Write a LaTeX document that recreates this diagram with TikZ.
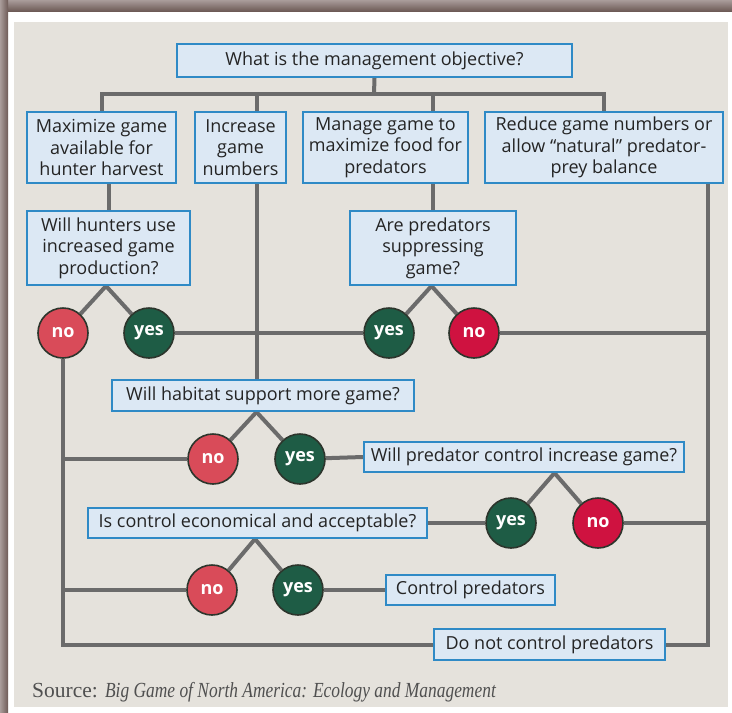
\documentclass[tikz,border=0pt]{standalone}
\usepackage{fontspec}
\usepackage{graphicx}
\setmainfont{Open Sans}
\newfontfamily\srcfont{Liberation Serif}
\usetikzlibrary{calc}
\pgfdeclarelayer{back}
\pgfdeclarelayer{bg}
\pgfsetlayers{back,bg,main}
\definecolor{panel}{HTML}{E5E2DC}
\definecolor{frametop}{HTML}{A99C9A}
\definecolor{framebot}{HTML}{6E5B57}
\definecolor{boxblue}{HTML}{2F8AC6}
\definecolor{boxfill}{HTML}{DCE8F4}
\definecolor{wiregray}{HTML}{6B6B6B}
\definecolor{nored}{HTML}{D94B59}
\definecolor{nodeep}{HTML}{CF1240}
\definecolor{yesgreen}{HTML}{1E5C45}
\definecolor{ringdark}{HTML}{2C352C}
\definecolor{inktext}{HTML}{242424}
\definecolor{srcgray}{HTML}{505050}
\def\fork(#1)(#2)(#3){\path ($(#2)!0.5!(#3)$) coordinate (#1apex);
  \draw[wire] (#1apex |- #1.south) -- (#2);
  \draw[wire] (#1apex |- #1.south) -- (#3);}

\begin{document}
\begin{tikzpicture}[x=1pt,y=-1pt,
  qbox/.style={draw=boxblue, fill=boxfill, line width=2pt, inner sep=0pt,
    align=center, text=inktext, font=\fontsize{18}{21.5}\selectfont},
  answer/.style={circle, draw=ringdark, line width=1.6pt, minimum size=50pt,
    inner sep=0pt, text=white, font=\bfseries\fontsize{18}{20}\selectfont},
  ansno/.style={answer, fill=nored},
  ansdeep/.style={answer, fill=nodeep},
  ansyes/.style={answer, fill=yesgreen},
  wire/.style={draw=wiregray, line width=4pt}]
  \useasboundingbox (0,0) rectangle (732,713);

  %%%%% FRAME %%%%%
  \begin{pgfonlayer}{back}
    \fill[white] (0,0) rectangle (732,713);
    \shade[top color=frametop, bottom color=framebot] (0,0) rectangle (732,11);
    \shade[left color=frametop, right color=framebot] (0,0) rectangle (8,713);
    \fill[panel] (14,22) rectangle (728,707);
  \end{pgfonlayer}

  %%%%% BOXES %%%%%
  \node[qbox, minimum width=395, minimum height=33] (goal) at (374.5,60.5) {What is the management objective?};

  \node[qbox, minimum width=149, minimum height=71] (harvest) at (101.5,147.5) {Maximize game\\available for\\hunter harvest};
  \node[qbox, minimum width=91, minimum height=71] (increase) at (240.5,147.5) {Increase\\game\\numbers};
  \node[qbox, minimum width=165, minimum height=71] (feed) at (385.5,147.5) {Manage game to\\maximize food for\\predators};
  \node[qbox, minimum width=238, minimum height=71] (reduce) at (604,147.5) {Reduce game numbers or\\allow ``natural'' predator-\\prey balance};

  \node[qbox, minimum width=163, minimum height=74] (hunters) at (108.5,248) {Will hunters use\\increased game\\production?};
  \node[qbox, minimum width=166, minimum height=74] (suppress) at (433,248) {Are predators\\suppressing\\game?};

  \node[qbox, minimum width=302, minimum height=31] (habitat) at (263,395.5) {Will habitat support more game?};
  \node[qbox, minimum width=320, minimum height=30] (effect) at (524,457) {Will predator control increase game?};
  \node[qbox, minimum width=339, minimum height=30] (cost) at (257.5,523) {Is control economical and acceptable?};
  \node[qbox, minimum width=169, minimum height=30] (control) at (470.5,590) {Control predators};
  \node[qbox, minimum width=231, minimum height=31] (nocontrol) at (549.5,644.5) {Do not control predators};

  %%%%% ANSWERS %%%%%
  \node[ansno] (huntno) at (63,333) {no};
  \node[ansyes] (huntyes) at (149,333) {yes};
  \node[ansyes] (predyes) at (389,333) {yes};
  \node[ansdeep] (predno) at (474,333) {no};
  \node[ansno] (habno) at (213,459) {no};
  \node[ansyes] (habyes) at (300,459) {yes};
  \node[ansyes] (effyes) at (511,523) {yes};
  \node[ansdeep] (effno) at (598,523) {no};
  \node[ansno] (costno) at (212,590) {no};
  \node[ansyes] (costyes) at (298,590) {yes};

  \node[anchor=base west, inner sep=0pt, text=srcgray, font=\srcfont\fontsize{21.5}{23}\selectfont] (source) at (32,697)
    {Source: \scalebox{0.81}[1]{\itshape Big Game of North America: Ecology and Management}};

  %%%%% WIRES %%%%%
  \coordinate (bus) at (374,94);
  \coordinate (incx) at (257,0);
  \coordinate (rightx) at (708,0);
  \begin{pgfonlayer}{bg}
    \draw[wire] (goal.south) -- (bus);
    \draw[wire] (harvest.north) |- (bus) -| (reduce.north);
    \draw[wire] (increase.north -| incx) -- (bus -| incx);
    \draw[wire] (feed.north -| suppress.north) -- (bus -| suppress.north);

    \draw[wire] (harvest.south -| hunters.north) -- (hunters.north);
    \draw[wire] (increase.south -| incx) -- (habitat.north -| incx);
    \draw[wire] (feed.south -| suppress.north) -- (suppress.north);
    \draw[wire] (reduce.south -| rightx) -- (rightx |- nocontrol.east) -- (nocontrol.east);

    \fork(hunters)(huntno)(huntyes)
    \fork(suppress)(predyes)(predno)
    \fork(habitat)(habno)(habyes)
    \fork(effect)(effyes)(effno)
    \fork(cost)(costno)(costyes)

    \draw[wire] (huntyes) -- (predyes);
    \draw[wire] (predno) -- (predno -| rightx);
    \draw[wire] (huntno) -- (huntno |- nocontrol.west) -- (nocontrol.west);
    \draw[wire] (habno) -- (habno -| huntno);
    \draw[wire] (habyes) -- (effect.west);
    \draw[wire] (effyes) -- (cost.east);
    \draw[wire] (effno) -- (effno -| rightx);
    \draw[wire] (costno) -- (costno -| huntno);
    \draw[wire] (costyes) -- (control.west);
  \end{pgfonlayer}
\end{tikzpicture}
\end{document}
